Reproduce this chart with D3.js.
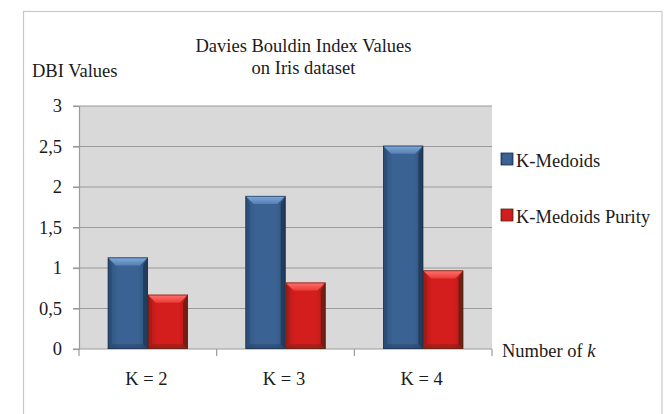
<!DOCTYPE html>
<html>
<head>
<meta charset="utf-8">
<script src="https://cdn.jsdelivr.net/npm/d3@7"></script>
<style>
  html, body { margin: 0; padding: 0; background: #fff; }
  svg { display: block; }
  svg text { font-family: "Liberation Serif", "Times New Roman", Times, "DejaVu Serif", serif !important; fill: #1a1a1a; }
</style>
</head>
<body>
<svg id="chart" width="671" height="414"></svg>
<script>
// Davies Bouldin index per number of clusters
const categories = ["K = 2", "K = 3", "K = 4"];
const seriesNames = ["K-Medoids", "K-Medoids Purity"];
const kMedoids = [1.13, 1.89, 2.51];
const kMedoidsPurity = [0.67, 0.82, 0.97];
const yTicks = [0, 0.5, 1, 1.5, 2, 2.5, 3];
const yTickLabels = ["0", "0,5", "1", "1,5", "2", "2,5", "3"];
const titleLines = ["Davies Bouldin Index Values", "on Iris dataset"];

const seriesValues = [kMedoids, kMedoidsPurity];
const palette = {
  "K-Medoids": { face: "#3a6292", light: "#7eaade", lightEnd: "#5680b4", dark: "#1d3452", side: "#2f5380", edge: "#1a2e48" },
  "K-Medoids Purity": { face: "#d41e1e", light: "#ff7470", lightEnd: "#ec3a36", dark: "#5a2012", side: "#b81818", edge: "#4a2a14" }
};

const serif = "'Liberation Serif', 'Times New Roman', Times, 'DejaVu Serif', serif";
const svg = d3.select("#chart");
const plot = { left: 79, right: 492, top: 106, bottom: 349 };
const fontSize = 18.5;

// outer frame
svg.append("rect")
  .attr("x", 23.5).attr("y", 11.5)
  .attr("width", 638.5).attr("height", 430)
  .attr("fill", "#fff").attr("stroke", "#c8c8c8").attr("stroke-width", 1.2);

const y = d3.scaleLinear().domain([0, 3]).range([plot.bottom, plot.top]);
const x0 = d3.scaleBand().domain(categories).range([plot.left, plot.right]).padding(0);
const x1 = d3.scaleBand().domain(seriesNames).range([0, x0.bandwidth()])
  .paddingInner(0).paddingOuter(0.72);

// plot background
svg.append("rect")
  .attr("x", plot.left).attr("y", plot.top)
  .attr("width", plot.right - plot.left).attr("height", plot.bottom - plot.top)
  .attr("fill", "#d9d9d9");

// gridlines
svg.append("g")
  .selectAll("line").data(yTicks.filter(v => v > 0)).join("line")
  .attr("x1", plot.left - 6).attr("x2", plot.right)
  .attr("y1", d => y(d)).attr("y2", d => y(d))
  .attr("stroke", "#9a9a9a").attr("stroke-width", 1.2);

// y axis
const yAxis = d3.axisLeft(y)
  .tickValues(yTicks)
  .tickFormat((d, i) => yTickLabels[i])
  .tickSize(6).tickPadding(11);
const gy = svg.append("g").attr("transform", `translate(${plot.left},0)`).call(yAxis)
  .attr("font-family", serif).attr("font-size", fontSize);
gy.select(".domain").attr("stroke", "#9a9a9a").attr("stroke-width", 1.2);
gy.selectAll(".tick line").attr("stroke", "#9a9a9a").attr("stroke-width", 1.2);
gy.selectAll(".tick text").attr("fill", "#1a1a1a");

// x axis: ticks at category boundaries
const boundaries = categories.map(c => x0(c)).concat([plot.right]);
const gx = svg.append("g").attr("font-family", serif).attr("font-size", fontSize);
gx.append("line")
  .attr("x1", plot.left - 6).attr("x2", plot.right)
  .attr("y1", plot.bottom).attr("y2", plot.bottom)
  .attr("stroke", "#9a9a9a").attr("stroke-width", 1.2);
gx.selectAll("line.tk").data(boundaries).join("line").attr("class", "tk")
  .attr("x1", d => d).attr("x2", d => d)
  .attr("y1", plot.bottom).attr("y2", plot.bottom + 7)
  .attr("stroke", "#9a9a9a").attr("stroke-width", 1.2);
gx.selectAll("text").data(categories).join("text")
  .attr("x", d => x0(d) + x0.bandwidth() / 2 - 1.5)
  .attr("y", 385)
  .attr("text-anchor", "middle")
  .text(d => d);

// gradients for bevelled bars
const defs = svg.append("defs");
seriesNames.forEach((s, i) => {
  const c = palette[s];
  const g = defs.append("linearGradient").attr("id", "face" + i)
    .attr("x1", "0").attr("x2", "1").attr("y1", "0").attr("y2", "0");
  g.append("stop").attr("offset", "0%").attr("stop-color", c.side);
  g.append("stop").attr("offset", "25%").attr("stop-color", c.face);
  g.append("stop").attr("offset", "75%").attr("stop-color", c.face);
  g.append("stop").attr("offset", "100%").attr("stop-color", c.side);
  const t = defs.append("linearGradient").attr("id", "top" + i)
    .attr("x1", "0").attr("x2", "0").attr("y1", "0").attr("y2", "1");
  t.append("stop").attr("offset", "0%").attr("stop-color", c.light);
  t.append("stop").attr("offset", "100%").attr("stop-color", c.lightEnd);
});

// bars
const bevel = 8;
const barData = [];
categories.forEach((cat, ci) => {
  seriesNames.forEach((s, si) => {
    barData.push({ cat, s, si, value: seriesValues[si][ci] });
  });
});

const bars = svg.append("g").selectAll("g.bar").data(barData).join("g").attr("class", "bar");
bars.each(function(d) {
  const g = d3.select(this);
  const c = palette[d.s];
  const bx = x0(d.cat) + x1(d.s);
  const bw = x1.bandwidth();
  const by = y(d.value);
  const bh = y(0) - by;
  const b = Math.min(bevel, bh / 2);
  // main face
  g.append("rect").attr("x", bx).attr("y", by).attr("width", bw).attr("height", bh)
    .attr("fill", `url(#face${d.si})`);
  // top bevel
  g.append("path")
    .attr("d", `M${bx},${by} L${bx + bw},${by} L${bx + bw - b},${by + b} L${bx + b},${by + b} Z`)
    .attr("fill", `url(#top${d.si})`);
  // right bevel (shadowed)
  g.append("path")
    .attr("d", `M${bx + bw},${by} L${bx + bw},${by + bh} L${bx + bw - b * 0.6},${by + bh - b * 0.6} L${bx + bw - b * 0.6},${by + b} Z`)
    .attr("fill", c.dark).attr("opacity", 0.75);
  // bottom bevel
  g.append("path")
    .attr("d", `M${bx},${by + bh} L${bx + bw},${by + bh} L${bx + bw - b * 0.6},${by + bh - b * 0.6} L${bx + b * 0.6},${by + bh - b * 0.6} Z`)
    .attr("fill", c.dark).attr("opacity", 0.35);
  // left bevel
  g.append("path")
    .attr("d", `M${bx},${by} L${bx + b * 0.5},${by + b} L${bx + b * 0.5},${by + bh - b * 0.5} L${bx},${by + bh} Z`)
    .attr("fill", c.dark).attr("opacity", 0.25);
  // outline
  g.append("rect").attr("x", bx + 0.4).attr("y", by + 0.4).attr("width", bw - 0.8).attr("height", bh - 0.8)
    .attr("fill", "none").attr("stroke", c.edge).attr("stroke-width", 0.8).attr("opacity", 0.8);
});

// title and labels share the serif face
const labels = svg.append("g").attr("font-family", serif).attr("font-size", fontSize);

labels.append("g").selectAll("text").data(titleLines).join("text")
  .attr("x", 303.5)
  .attr("y", (d, i) => 52 + i * 22)
  .attr("text-anchor", "middle")
  .text(d => d);

labels.append("text").attr("x", 32).attr("y", 77).text("DBI Values");
const xt = labels.append("text").attr("x", 502).attr("y", 357);
xt.append("tspan").text("Number of ");
xt.append("tspan").attr("font-style", "italic").text("k");

// legend
const legend = labels.append("g").selectAll("g").data(seriesNames).join("g")
  .attr("transform", (d, i) => `translate(501,${153 + i * 56})`);
legend.append("rect").attr("width", 12).attr("height", 12)
  .attr("fill", (d, i) => `url(#face${i})`)
  .attr("stroke", d => palette[d].edge).attr("stroke-width", 0.8);
legend.append("rect").attr("x", 2).attr("y", 2).attr("width", 8).attr("height", 7)
  .attr("fill", d => palette[d].face);
legend.append("text").attr("x", 15).attr("y", 13.5).text(d => d);
</script>
</body>
</html>
